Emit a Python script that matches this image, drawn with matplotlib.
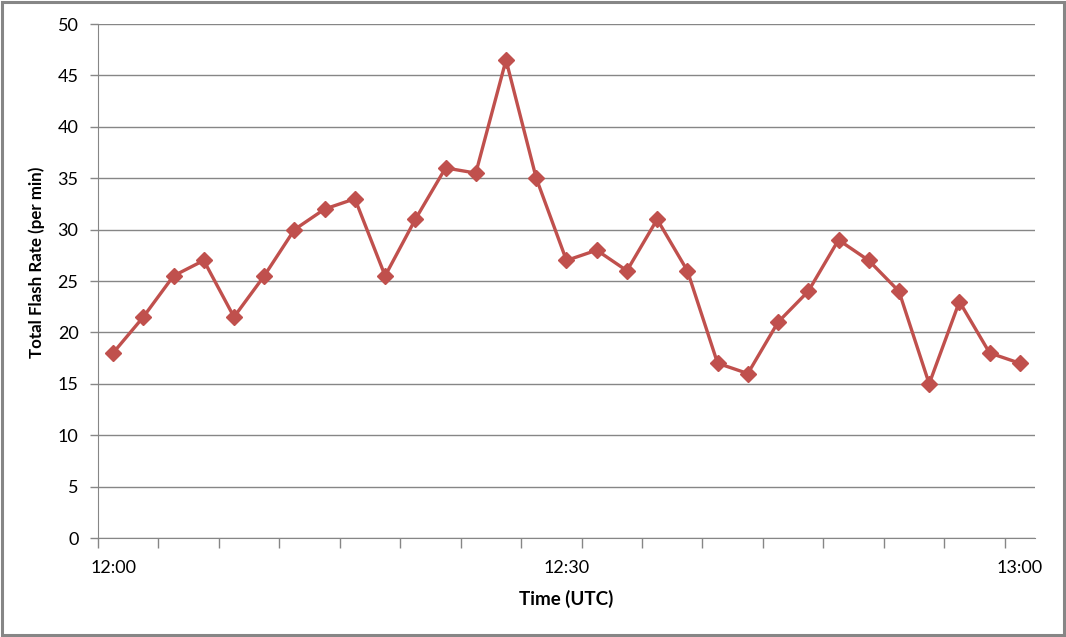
import numpy as np
import matplotlib.pyplot as plt

# Flash rate every 2 minutes, 12:00 - 13:00 UTC
flash_rate = [18, 21.5, 25.5, 27, 21.5, 25.5, 30, 32, 33, 25.5,
              31, 36, 35.5, 46.5, 35, 27, 28, 26, 31, 26,
              17, 16, 21, 24, 29, 27, 24, 15, 23, 18, 17]
time_labels = ["12:00", "12:30", "13:00"]
label_pos = [0, 15, 30]

plt.rcParams['font.family'] = ['Lato', 'DejaVu Sans']

fig = plt.figure(figsize=(10.66, 6.37), dpi=100)
ax = fig.add_axes([0.0919, 0.1554, 0.8790, 0.8069])

x = np.arange(len(flash_rate))
ax.plot(x, flash_rate, color='#C0504D', lw=2.4, marker='D', ms=8,
        mec='#C0504D', mfc='#C0504D', zorder=3)

ax.set_xlim(-0.5, len(flash_rate) - 0.5)
ax.set_ylim(0, 50)
ax.set_yticks(np.arange(0, 51, 5))
ax.yaxis.grid(True, color='#868686', lw=1)
ax.set_axisbelow(True)

ax.set_xticks(np.arange(-0.5, len(flash_rate) - 1, 2))
ax.set_xticklabels([])
ax.set_xticks(label_pos, minor=True)
ax.set_xticklabels(time_labels, minor=True)
ax.tick_params(axis='x', which='major', length=7, width=1, color='#868686')
ax.tick_params(axis='x', which='minor', length=0, pad=16, labelsize=13)
ax.tick_params(axis='y', length=6, width=1, color='#868686', labelsize=13, pad=8)

for s in ['top', 'right']:
    ax.spines[s].set_visible(False)
ax.spines['left'].set_color('#868686')
ax.spines['bottom'].set_color('#868686')

ax.set_xlabel("Time (UTC)", fontsize=13.5, fontweight='bold', labelpad=10)
ax.set_ylabel("Total Flash Rate (per min)", fontsize=12.2, fontweight='bold')
ax.yaxis.set_label_coords(-0.056, 0.537)

# outer chart border
fig.patches.append(plt.Rectangle((0.0015, 0.0025), 0.997, 0.995, transform=fig.transFigure,
                                 fill=False, edgecolor='#868686', lw=2.2))

fig.savefig("out.png", dpi=100)
